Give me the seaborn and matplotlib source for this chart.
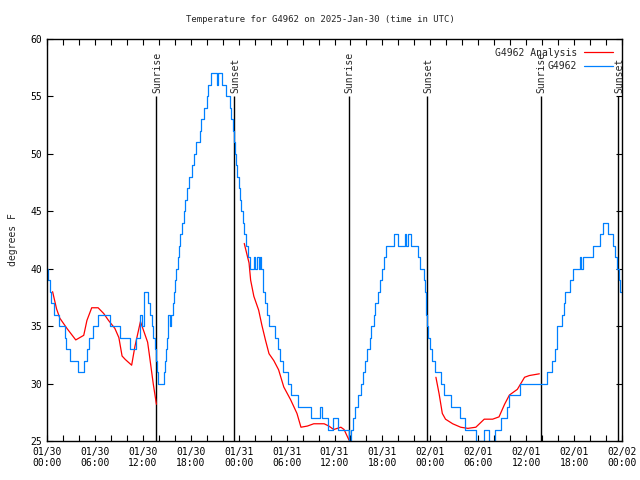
import numpy as np
import pandas as pd
import seaborn as sns
import matplotlib.pyplot as plt
from matplotlib.lines import Line2D

# ==== data (hours since 01/30 00:00 UTC, degrees F)
# observations, given as step change points
blue_hours = [0.0, 0.15, 0.35, 0.55, 0.85, 1.5, 2.25, 2.4, 2.9, 3.9, 4.6, 5.0, 5.3, 5.8, 6.4,
              7.9, 9.15, 10.4, 11.2, 11.6, 11.85, 12.1, 12.6, 12.9, 13.1, 13.3, 13.5, 13.65,
              13.75, 13.95, 14.6, 14.8, 14.9, 15.0, 15.15, 15.35, 15.55, 15.75, 15.85, 16.0,
              16.2, 16.35, 16.5, 16.7, 16.9, 17.1, 17.3, 17.5, 17.8, 18.1, 18.4, 18.7, 19.1,
              19.3, 19.7, 20.0, 20.2, 20.5, 21.25, 21.4, 21.95, 22.4, 22.9, 23.1, 23.25,
              23.45, 23.6, 23.7, 23.85, 24.0, 24.2, 24.35, 24.5, 24.7, 24.9, 25.2, 25.45,
              25.9, 26.1, 26.3, 26.5, 26.7, 26.85, 27.0, 27.1, 27.3, 27.5, 27.8, 28.5, 28.9,
              29.2, 29.6, 30.2, 30.5, 31.4, 33.0, 34.2, 34.4, 35.2, 35.75, 36.5, 37.8, 38.1,
              38.35, 38.55, 38.9, 39.3, 39.6, 39.8, 40.1, 40.4, 40.6, 40.9, 41.1, 41.4, 41.7,
              41.9, 42.2, 42.5, 43.4, 43.9, 44.8, 45.0, 45.2, 45.6, 46.5, 46.7, 47.2, 47.3,
              47.4, 47.5, 47.6, 47.75, 47.9, 48.2, 48.6, 49.3, 49.7, 50.6, 51.7, 52.4, 53.7,
              54.7, 55.3, 56.1, 56.8, 57.6, 57.9, 59.2, 62.6, 63.2, 63.6, 63.8, 63.9, 64.5,
              64.7, 64.8, 65.5, 65.9, 66.7, 66.9, 67.1, 68.4, 69.3, 69.6, 70.2, 70.9, 71.1,
              71.4, 71.6, 71.8, 72.0]
blue_temps = [40, 39, 38, 37, 36, 35, 34, 33, 32, 31, 32, 33, 34, 35, 36,
              35, 34, 33, 34, 36, 35, 38, 37, 36, 35, 34, 33, 32,
              31, 30, 31, 32, 33, 34, 36, 35, 36, 37, 38, 39,
              40, 41, 42, 43, 44, 45, 46, 47, 48, 49, 50, 51, 52,
              53, 54, 55, 56, 57, 56, 57, 56, 55, 54, 53, 52,
              51, 50, 49, 48, 47, 46, 45, 44, 43, 42, 41, 40,
              41, 40, 41, 40, 41, 40, 39, 38, 37, 36, 35, 34, 33,
              32, 31, 30, 29, 28, 27, 28, 27, 26, 27, 26, 25, 26,
              27, 28, 29, 30, 31, 32, 33, 34, 35, 36, 37, 38, 39,
              40, 41, 42, 43, 42, 43, 42, 43, 42, 41, 40, 39, 38,
              37, 36, 35, 34, 33, 32, 31, 30, 29, 28, 27, 26, 25,
              26, 25, 26, 27, 28, 29, 30, 31, 32, 33, 34, 35, 36,
              37, 38, 39, 40, 41, 40, 41, 42, 43, 44, 43, 42, 41,
              40, 39, 38, 38]

# analysis, nan marks the gaps
red_hours = [0.7, 1.2, 1.6, 2.5, 3.6, 4.1, 4.6, 5.0, 5.6, 6.4, 7.1, 7.7, 8.5, 9.0, 9.4, 9.8,
             10.6, 11.0, 11.7, 12.1, 12.6, 12.8, 13.3, 13.7, 14.0,
             24.7, 25.3, 25.5, 25.9, 26.5, 26.9, 27.35, 27.8, 28.4, 29.0, 29.65, 30.5, 31.3,
             31.8, 32.6, 33.4, 34.7, 35.3, 35.9, 36.8, 37.2, 37.8, 38.0,
             48.7, 49.1, 49.5, 49.9, 50.8, 51.8, 52.7, 53.7, 54.75, 55.8, 56.6, 57.3, 57.9,
             58.9, 59.8, 60.4, 61.65]
red_temps = [38.0, 36.5, 35.7, 34.8, 33.8, 34.0, 34.2, 35.5, 36.6, 36.6, 36.1, 35.5, 34.8, 34.0,
             32.4, 32.1, 31.6, 33.2, 35.4, 34.6, 33.6, 32.6, 30.0, 28.2, np.nan,
             42.2, 40.5, 39.0, 37.6, 36.4, 35.1, 33.8, 32.6, 32.0, 31.2, 29.7, 28.6, 27.4,
             26.2, 26.3, 26.5, 26.5, 26.3, 26.0, 26.2, 26.0, 25.1, np.nan,
             30.55, 29.1, 27.4, 26.9, 26.5, 26.2, 26.1, 26.2, 26.9, 26.9, 27.1, 28.2, 29.0,
             29.5, 30.55, 30.7, 30.85]

sun_hours = [13.7, 23.45, 37.8, 47.6, 61.8, 71.55]
sun_labels = ['Sunrise', 'Sunset', 'Sunrise', 'Sunset', 'Sunrise', 'Sunset']

tick_hours = list(range(0, 73, 6))
tick_labels = ['01/30\n00:00', '01/30\n06:00', '01/30\n12:00', '01/30\n18:00',
               '01/31\n00:00', '01/31\n06:00', '01/31\n12:00', '01/31\n18:00',
               '02/01\n00:00', '02/01\n06:00', '02/01\n12:00', '02/01\n18:00',
               '02/02\n00:00']

blue = pd.DataFrame({'hour': blue_hours, 'temp': blue_temps})
red = pd.DataFrame({'hour': red_hours, 'temp': red_temps})
red['seg'] = red['temp'].isna().cumsum()
red = red.dropna()

# ==== style
sns.set_style('ticks')
plt.rcParams['font.family'] = ['DejaVu Sans Mono', 'DejaVu Sans']
plt.rcParams['font.size'] = 7

fig = plt.figure(figsize=(6.4, 4.8), dpi=100)
ax = fig.add_axes([47 / 640, 1 - 441 / 480, 575 / 640, 402 / 480])

# ==== sunrise / sunset markers
ax.vlines(sun_hours, 25, 55, color='black', lw=1)
for h, lab in zip(sun_hours, sun_labels):
    ax.text(h + 0.1, 55.3, lab, rotation=90, ha='center', va='bottom', fontsize=7)

# ==== lines
sns.lineplot(data=red, x='hour', y='temp', units='seg', estimator=None, color='#ff0000',
             lw=0.9, ax=ax, legend=False)
sns.lineplot(data=blue, x='hour', y='temp', estimator=None, color='#0080ff', lw=0.9,
             drawstyle='steps-post', ax=ax, legend=False)

ax.set_xlim(0, 72)
ax.set_ylim(25, 60)
ax.set_xticks(tick_hours)
ax.set_xticklabels(tick_labels)
ax.set_xticks(range(0, 73, 2), minor=True)
ax.set_yticks(range(25, 61, 5))
ax.tick_params(which='both', direction='in', top=True, right=True, length=4, width=0.8,
               labelsize=7, colors='black')
ax.tick_params(axis='x', pad=4)
for s in ax.spines.values():
    s.set_color('black')
    s.set_linewidth(1)

ax.set_xlabel('')
ax.set_ylabel('degrees F', fontsize=7, labelpad=9)
fig.text(0.5, 1 - 19 / 480, 'Temperature for G4962 on 2025-Jan-30 (time in UTC)',
         ha='center', va='center', fontsize=6.5)

handles = [Line2D([], [], color='#ff0000', lw=0.9), Line2D([], [], color='#0080ff', lw=0.9)]
ax.legend(handles, ['G4962 Analysis', 'G4962'], loc='upper right', frameon=False,
          markerfirst=False, fontsize=7, handlelength=3.0, handletextpad=0.7,
          borderaxespad=0.5, labelspacing=0.35, borderpad=0.4)

fig.savefig('out.png', dpi=100)
